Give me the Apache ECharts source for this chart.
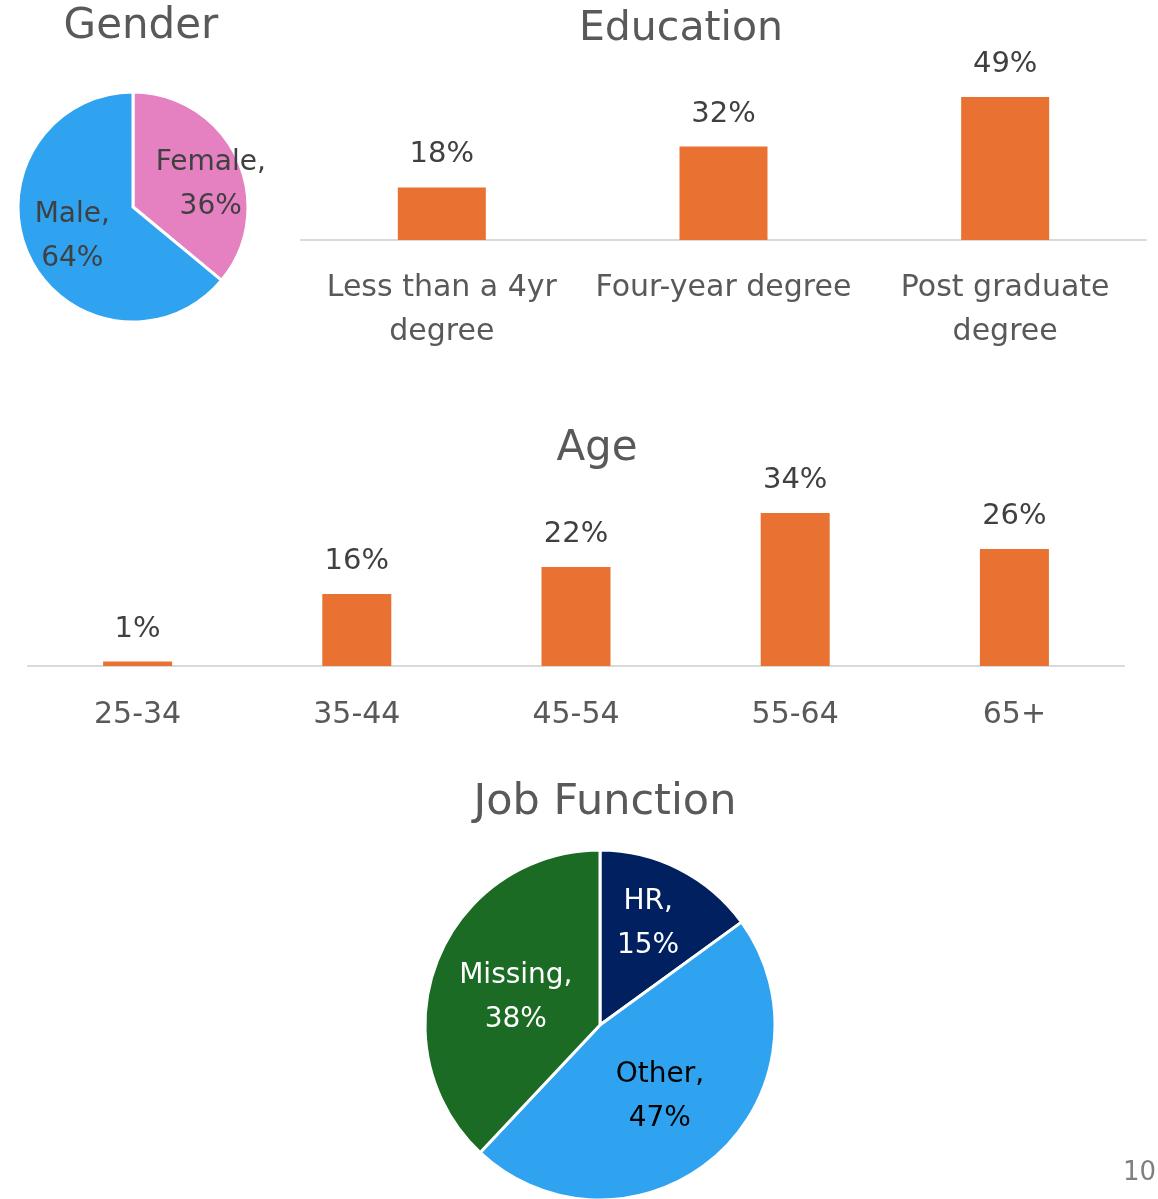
<!DOCTYPE html>
<html>
<head>
<meta charset="utf-8">
<title>Survey demographics</title>
<script src="https://cdn.jsdelivr.net/npm/echarts@6/dist/echarts.min.js"></script>
<style>
  html, body { margin: 0; padding: 0; background: #fff; }
  #main { width: 1158px; height: 1199px; }
</style>
</head>
<body>
<div id="main"></div>
<script>
// 数据
var genderNames = ['Female', 'Male']
var genderValues = [36, 64]

var eduCategories = ['Less than a 4yr\ndegree', 'Four-year degree', 'Post graduate\ndegree']
var eduValues = [18, 32, 49]

var ageCategories = ['25-34', '35-44', '45-54', '55-64', '65+']
var ageValues = [1, 16, 22, 34, 26]

var jobNames = ['HR', 'Other', 'Missing']
var jobValues = [15, 47, 38]

var FONT = 'DejaVu Sans'
var ORANGE = '#E97132'

var chart = echarts.init(document.getElementById('main'))

function titleItem (text, x, y, size) {
  return {
    text: text,
    left: x,
    top: y,
    textAlign: 'center',
    textStyle: { fontFamily: FONT, fontWeight: 'normal', fontSize: size || 41, color: '#595959' }
  }
}

// 柱子上的百分比标签
var barLabel = {
  show: true,
  position: 'top',
  distance: 18,
  formatter: '{c}%',
  fontFamily: FONT,
  fontSize: 29,
  color: '#404040'
}

var catLabel = { interval: 0, fontFamily: FONT, fontSize: 30, lineHeight: 44, color: '#595959' }

chart.setOption({
  animation: false,
  title: [
    titleItem('Gender', 136, 1, 42),
    titleItem('Education', 676, 4, 41),
    titleItem('Age', 592, 423, 42),
    titleItem('Job Function', 600, 776, 43),
    {
      text: '10',
      right: 2,
      top: 1160,
      padding: 0,
      textStyle: { fontFamily: FONT, fontWeight: 'normal', fontSize: 26, color: '#7F7F7F' }
    }
  ],
  grid: [
    { left: 301, width: 845, top: 94, height: 146 },
    { left: 28, width: 1096, top: 508.5, height: 157.5 }
  ],
  xAxis: [
    {
      gridIndex: 0,
      type: 'category',
      data: eduCategories,
      axisLine: { lineStyle: { color: '#D9D9D9', width: 2 } },
      axisTick: { show: false },
      axisLabel: Object.assign({ margin: 26 }, catLabel)
    },
    {
      gridIndex: 1,
      type: 'category',
      data: ageCategories,
      axisLine: { lineStyle: { color: '#D9D9D9', width: 2 } },
      axisTick: { show: false },
      axisLabel: Object.assign({ margin: 27 }, catLabel)
    }
  ],
  yAxis: [
    { gridIndex: 0, type: 'value', min: 0, max: 50, show: false },
    { gridIndex: 1, type: 'value', min: 0, max: 35, show: false }
  ],
  series: [
    {
      type: 'bar',
      xAxisIndex: 0,
      yAxisIndex: 0,
      data: eduValues,
      barWidth: 88,
      itemStyle: { color: ORANGE },
      label: barLabel
    },
    {
      type: 'bar',
      xAxisIndex: 1,
      yAxisIndex: 1,
      data: ageValues,
      barWidth: 69,
      itemStyle: { color: ORANGE },
      label: barLabel
    },
    {
      type: 'pie',
      center: [133, 207],
      radius: 115,
      startAngle: 90,
      data: genderNames.map(function (n, i) { return { name: n, value: genderValues[i] } }),
      color: ['#E580C1', '#2FA3EF'],
      itemStyle: { borderColor: '#fff', borderWidth: 3 },
      label: {
        position: 'inside',
        formatter: '{b},\n{c}%',
        fontFamily: FONT,
        fontSize: 28,
        lineHeight: 44,
        color: '#404040'
      },
      // 微调标签位置
      labelLayout: function (params) {
        return params.dataIndex === 0 ? { dx: 23, dy: 3 } : { dx: -6, dy: 4 }
      }
    },
    {
      type: 'pie',
      center: [600, 1025],
      radius: 175,
      startAngle: 90,
      data: jobNames.map(function (n, i) {
        return {
          name: n,
          value: jobValues[i],
          label: { color: n === 'Other' ? '#000' : '#fff' }
        }
      }),
      color: ['#002060', '#2FA3EF', '#1B6B24'],
      itemStyle: { borderColor: '#fff', borderWidth: 3 },
      label: {
        position: 'inside',
        formatter: '{b},\n{c}%',
        fontFamily: FONT,
        fontSize: 28,
        lineHeight: 44
      },
      labelLayout: function (params) {
        if (params.dataIndex === 0) return { dx: 7, dy: -21 }
        if (params.dataIndex === 1) return { dx: 0, dy: 4 }
        return { dx: 0, dy: 6 }
      }
    }
  ]
})
</script>
</body>
</html>
